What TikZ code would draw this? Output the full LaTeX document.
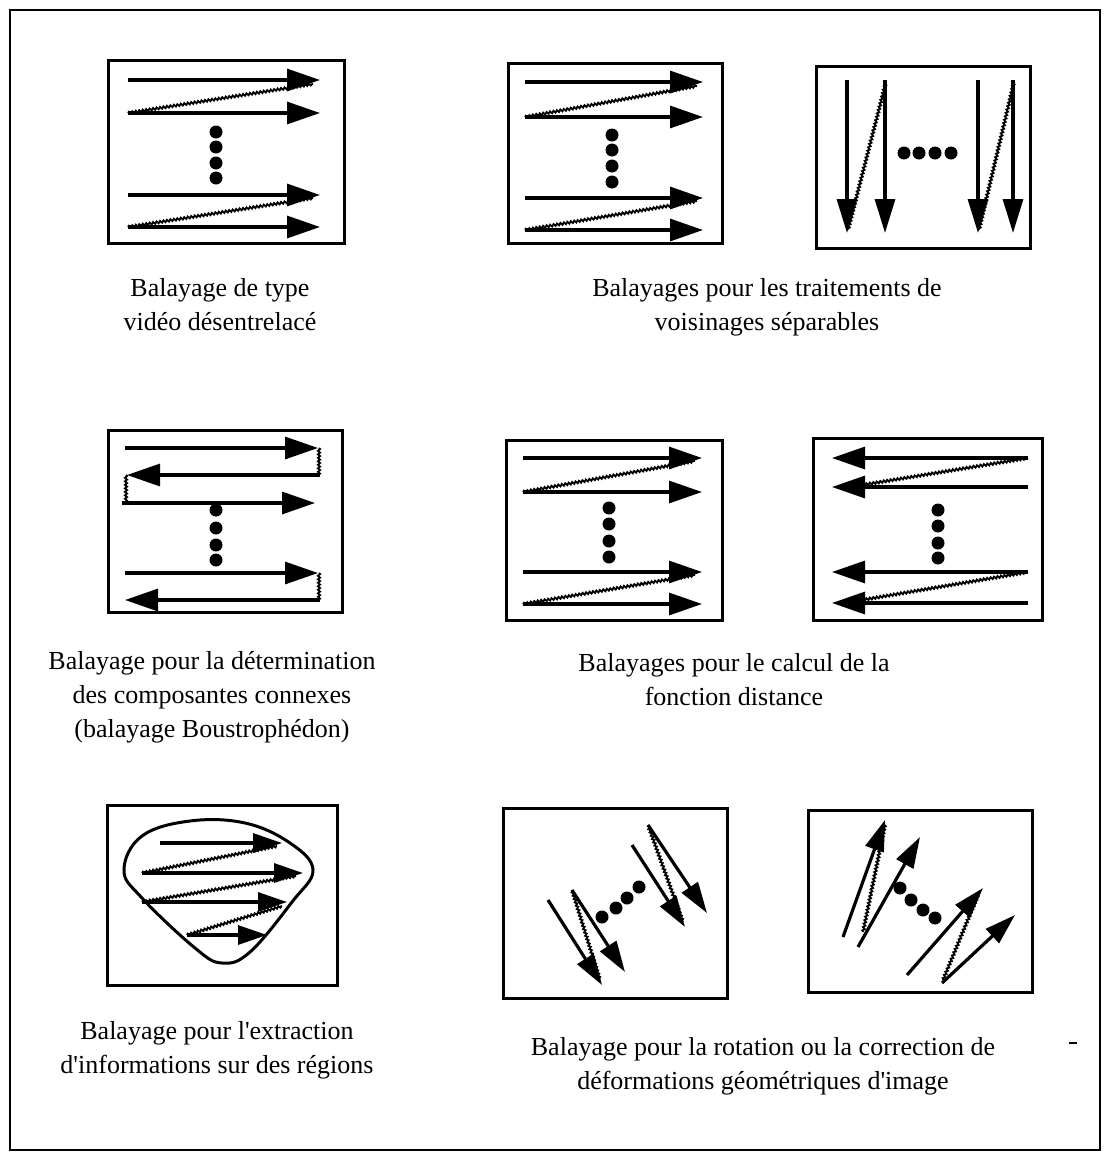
\documentclass[tikz,border=0pt]{standalone}
\usepackage{fontspec}
\setmainfont{Liberation Serif}
\usetikzlibrary{arrows.meta,decorations.pathmorphing}
\begin{document}
\begin{tikzpicture}[x=1pt,y=-1pt,
  outerframe/.style={line width=2pt},
  panel/.style={line width=3pt},
  arr/.style={line width=3.2pt,-{Triangle[length=33pt,width=22pt]}},
  varr/.style={line width=3.2pt,-{Triangle[length=34pt,width=20pt]}},
  darr/.style={line width=3.2pt,-{Triangle[length=31pt,width=19pt]}},
  sarr/.style={line width=3.2pt,-{Triangle[length=29pt,width=19pt]}},
  wave/.style={line width=1.8pt,decorate,decoration={snake,segment length=3.5pt,amplitude=1.1pt}},
  bdot/.style={circle,fill=black,inner sep=0pt,minimum size=13pt},
  captxt/.style={align=center,font=\fontsize{26}{34}\selectfont}
]
\useasboundingbox (0,0) rectangle (1107,1157);
\draw[outerframe] (10,10) rectangle (1100,1150);

% ---------- Panel 1 ----------
\draw[panel] (108,60) rectangle (344,243);
\draw[arr] (128,80) -- (320,80);
\draw[arr] (128,113) -- (320,113);
\draw[wave] (128,113) -- (313,84);
\node[bdot] (p1d1) at (216,132) {};
\node[bdot] (p1d2) at (216,147) {};
\node[bdot] (p1d3) at (216,163) {};
\node[bdot] (p1d4) at (216,178) {};
\draw[arr] (128,195) -- (320,195);
\draw[arr] (128,227) -- (320,227);
\draw[wave] (128,227) -- (313,198);
\node[captxt] (c1) at (220,305) {Balayage de type\\vidéo désentrelacé};

% ---------- Panel 2a ----------
\draw[panel] (508,63) rectangle (722,243);
\draw[arr] (525,82) -- (703,82);
\draw[arr] (525,117) -- (703,117);
\draw[wave] (525,117) -- (697,86);
\node[bdot] (p2d1) at (612,135) {};
\node[bdot] (p2d2) at (612,150) {};
\node[bdot] (p2d3) at (612,166) {};
\node[bdot] (p2d4) at (612,182) {};
\draw[arr] (525,198) -- (703,198);
\draw[arr] (525,230) -- (703,230);
\draw[wave] (525,230) -- (697,201);

% ---------- Panel 2b ----------
\draw[panel] (816,66) rectangle (1030,248);
\draw[varr] (847,80) -- (847,233);
\draw[varr] (885,80) -- (885,233);
\draw[wave] (848,230) -- (886,82);
\draw[varr] (978,80) -- (978,233);
\draw[varr] (1013,80) -- (1013,233);
\draw[wave] (979,230) -- (1014,82);
\node[bdot] (p2e1) at (904,153) {};
\node[bdot] (p2e2) at (919,153) {};
\node[bdot] (p2e3) at (935,153) {};
\node[bdot] (p2e4) at (951,153) {};
\node[captxt] (c2) at (767,307) {Balayages pour les traitements de\\voisinages séparables};

% ---------- Panel 3 ----------
\draw[panel] (108,430) rectangle (342,612);
\draw[arr] (125,448) -- (318,448);
\draw[wave] (319,448) -- (319,475);
\draw[arr] (320,475) -- (127,475);
\draw[wave] (126,475) -- (126,503);
\draw[arr] (122,503) -- (315,503);
\node[bdot] (p3d1) at (216,510) {};
\node[bdot] (p3d2) at (216,528) {};
\node[bdot] (p3d3) at (216,545) {};
\node[bdot] (p3d4) at (216,560) {};
\draw[arr] (125,573) -- (318,573);
\draw[wave] (319,573) -- (319,600);
\draw[arr] (320,600) -- (125,600);
\node[captxt] (c3) at (212,697) {Balayage pour la détermination\\des composantes connexes\\(balayage Boustrophédon)};

% ---------- Panel 4a ----------
\draw[panel] (506,440) rectangle (722,620);
\draw[arr] (523,458) -- (702,458);
\draw[arr] (523,492) -- (702,492);
\draw[wave] (523,492) -- (695,461);
\node[bdot] (p4d1) at (609,508) {};
\node[bdot] (p4d2) at (609,524) {};
\node[bdot] (p4d3) at (609,541) {};
\node[bdot] (p4d4) at (609,557) {};
\draw[arr] (523,572) -- (702,572);
\draw[arr] (523,604) -- (702,604);
\draw[wave] (523,604) -- (695,575);

% ---------- Panel 4b ----------
\draw[panel] (813,438) rectangle (1042,620);
\draw[arr] (1028,458) -- (832,458);
\draw[arr] (1028,487) -- (832,487);
\draw[wave] (862,485) -- (1028,458);
\node[bdot] (p4e1) at (938,510) {};
\node[bdot] (p4e2) at (938,526) {};
\node[bdot] (p4e3) at (938,543) {};
\node[bdot] (p4e4) at (938,558) {};
\draw[arr] (1028,572) -- (832,572);
\draw[arr] (1028,603) -- (832,603);
\draw[wave] (862,600) -- (1028,572);
\node[captxt] (c4) at (734,680) {Balayages pour le calcul de la\\fonction distance};

% ---------- Panel 5 ----------
\draw[panel] (107,805) rectangle (337,985);
\draw[line width=3pt] plot[smooth cycle, tension=0.65] coordinates
  {(124,870) (142,836) (190,821) (245,823) (290,843) (313,870) (292,902) (250,952) (222,963) (195,948) (142,898)};
\draw[sarr] (160,843) -- (282,843);
\draw[sarr] (142,873) -- (303,873);
\draw[wave] (142,873) -- (277,846);
\draw[sarr] (142,902) -- (287,902);
\draw[wave] (142,902) -- (296,876);
\draw[sarr] (187,935) -- (267,935);
\draw[wave] (187,935) -- (282,906);
\node[captxt] (c5) at (217,1050) {Balayage pour l\textquotesingle extraction\\d\textquotesingle informations sur des régions};

% ---------- Panel 6a ----------
\draw[panel] (503,808) rectangle (727,998);
\draw[darr] (548,900) -- (602,985);
\draw[darr] (572,890) -- (625,972);
\draw[wave] (600,980) -- (572,890);
\draw[darr] (632,845) -- (685,927);
\draw[darr] (648,825) -- (707,913);
\draw[wave] (683,922) -- (648,825);
\node[bdot] (p6d1) at (602,917) {};
\node[bdot] (p6d2) at (616,908) {};
\node[bdot] (p6d3) at (627,898) {};
\node[bdot] (p6d4) at (639,887) {};

% ---------- Panel 6b ----------
\draw[panel] (808,810) rectangle (1032,992);
\draw[darr] (843,937) -- (885,820);
\draw[darr] (858,947) -- (920,837);
\draw[wave] (885,825) -- (863,932);
\draw[darr] (907,975) -- (983,888);
\draw[darr] (942,983) -- (1015,915);
\draw[wave] (978,895) -- (943,980);
\node[bdot] (p6e1) at (900,888) {};
\node[bdot] (p6e2) at (911,900) {};
\node[bdot] (p6e3) at (923,910) {};
\node[bdot] (p6e4) at (935,918) {};
\node[captxt] (c6) at (763,1066) {Balayage pour la rotation ou la correction de\\déformations géométriques d\textquotesingle image};

% stray mark
\draw[line width=1.5pt] (1069,1043) -- (1077,1043);
\end{tikzpicture}
\end{document}
